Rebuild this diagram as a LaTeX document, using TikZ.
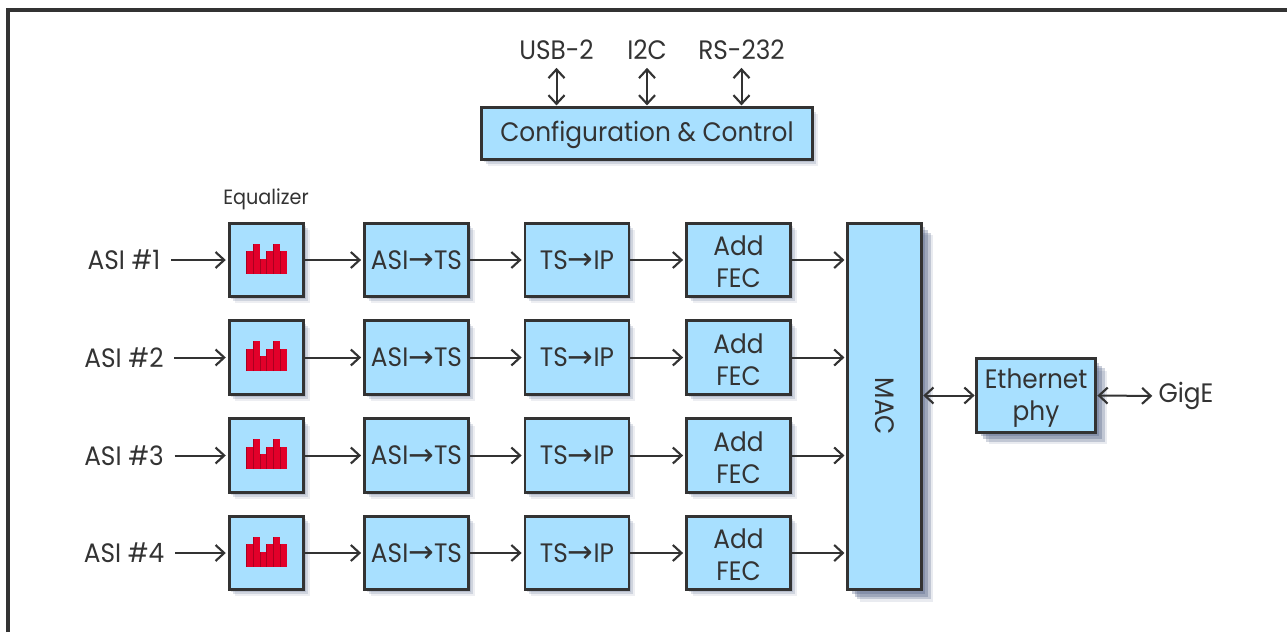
\documentclass[tikz,border=0pt]{standalone}
\usepackage{fontspec}
\setmainfont{Poppins}[FakeStretch=0.93]
\newfontfamily\arrowfont{DejaVu Sans}
\usetikzlibrary{arrows.meta,shadows,positioning}
\definecolor{boxfill}{HTML}{A8E0FF}
\definecolor{ink}{HTML}{333333}
\definecolor{barred}{HTML}{E2002A}
\definecolor{shade}{HTML}{4A5A80}
\newcommand{\eqicon}[1]{%
  \foreach \i/\t in {0/22.5,1/30,2/15,3/22.5,4/30,5/22.5}{%
    \fill[barred] ([xshift=-20pt*0.75+\i*5pt,yshift=-15pt*0.75+1pt]#1.center) rectangle ++(5pt,\t*0.75pt);
    \draw[barred!75!black,line width=0.2pt] ([xshift=-20pt*0.75+\i*5pt,yshift=-15pt*0.75+1pt]#1.center) -- ++(0,\t*0.75pt);
  }}
\newcommand{\bigarrow}{{\arrowfont\fontsize{23}{23}\selectfont\raisebox{-0.5pt}{→}}}
\newcommand{\pushdown}[1]{\rule{0pt}{#1}}
\tikzset{
  x=0.75pt,y=-0.75pt,
  softshadow/.style={
    general shadow={shadow xshift=1.5pt,shadow yshift=-2pt,fill=shade,opacity=.18},
    general shadow={shadow xshift=3pt,shadow yshift=-3.5pt,fill=shade,opacity=.18},
    general shadow={shadow xshift=4.5pt,shadow yshift=-5pt,fill=shade,opacity=.10}},
  bigshadow/.style={
    general shadow={shadow xshift=3pt,shadow yshift=-3pt,fill=shade,opacity=.30},
    general shadow={shadow xshift=5pt,shadow yshift=-5pt,fill=shade,opacity=.30},
    general shadow={shadow xshift=7pt,shadow yshift=-7pt,fill=shade,opacity=.25},
    general shadow={shadow xshift=9pt,shadow yshift=-9pt,fill=shade,opacity=.12}},
  blockbase/.style={draw=ink,line width=2.1pt,fill=boxfill,text=ink,inner sep=0pt,align=center,font=\fontsize{20}{24}\selectfont},
  block/.style={blockbase,softshadow},
  bigblock/.style={blockbase,bigshadow},
  eqbox/.style={block,minimum width=56pt,minimum height=55pt},
  wideblock/.style={block,minimum width=78pt,minimum height=55pt},
  lab/.style={text=ink,inner sep=0pt,font=\fontsize{20}{22}\selectfont},
  conn/.style={draw=ink,line width=1.5pt,-{Straight Barb[length=6.5pt,width=12pt,line width=1.6pt]},shorten >=1.5pt},
  biconn/.style={draw=ink,line width=1.5pt,{Straight Barb[length=6.5pt,width=12pt,line width=1.6pt]}-{Straight Barb[length=6.5pt,width=12pt,line width=1.6pt]},shorten >=0.5pt,shorten <=0.5pt},
  frameline/.style={draw=ink,line width=3pt}
}
\begin{document}
\begin{tikzpicture}
\useasboundingbox (0,0) rectangle (1287,632);
\coordinate (fa) at (8,632);
\coordinate (fb) at (8,10);
\coordinate (fc) at (1287,10);
\draw[frameline] (fa) -- (fb) -- (fc);
\node[block,minimum width=248pt,minimum height=39pt] (cfg) at (647,133.5) {\pushdown{17.5pt}Configuration \& Control};
\node[lab] (usb) at (556.5,50) {USB-2};
\node[lab] (i2c) at (647,50) {I2C};
\node[lab] (rs) at (741.5,50) {RS-232};
\draw[biconn] (usb.south) ++(0,7) coordinate (u0) (u0) -- (u0 |- cfg.north);
\draw[biconn] (i2c.south) ++(0,7) coordinate (i0) (i0) -- (i0 |- cfg.north);
\draw[biconn] (rs.south) ++(0,7) coordinate (r0) (r0) -- (r0 |- cfg.north);
\node[text=ink,inner sep=0pt,font=\fontsize{15.5}{16}\selectfont] (eqlabel) at (266,199) {Equalizer};
\node[bigblock,minimum width=55pt,minimum height=275pt] (mac) at (884.5,406.5) {\rotatebox{-90}{MAC}};
\node[bigblock,minimum width=89pt,minimum height=55pt] (eth) at (1036,395.5) {\pushdown{18pt}Ethernet\\phy};
\node[lab] (gige) at (1186,396) {GigE};
\draw[biconn] (mac.east |- eth.west) -- (eth.west);
\draw[biconn,shorten >=4.5pt] (eth.east) -- (gige.west);
\foreach \n/\y in {1/260,2/357.5,3/455.5,4/553}{
  \node[lab] (in\n) at (124,\y) {ASI \#\n};
  \node[eqbox] (eq\n) at (266.5,\y) {};
  \eqicon{eq\n}
  \node[wideblock] (asi\n) at (416.5,\y) {ASI\bigarrow TS};
  \node[wideblock] (ts\n) at (577,\y) {TS\bigarrow IP};
  \node[wideblock] (fec\n) at (738.5,\y) {\pushdown{17.5pt}Add\\FEC};
  \draw[conn] ([xshift=8pt]in\n.east) -- (eq\n.west);
  \draw[conn] (eq\n) -- (asi\n);
  \draw[conn] (asi\n) -- (ts\n);
  \draw[conn] (ts\n) -- (fec\n);
  \draw[conn] (fec\n.east) -- (fec\n.east -| mac.west);
}
\end{tikzpicture}
\end{document}
